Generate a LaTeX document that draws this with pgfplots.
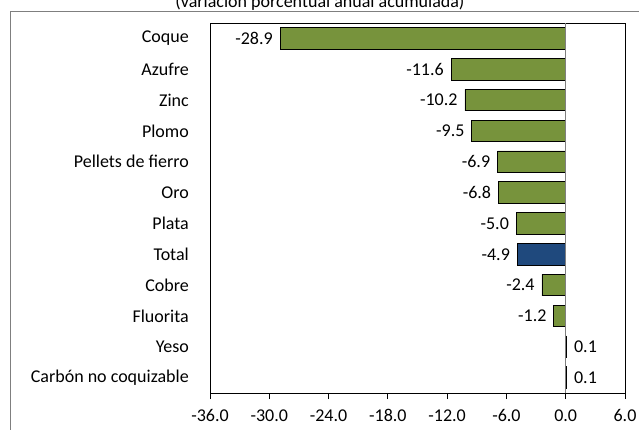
\documentclass[border=0pt]{standalone}
\usepackage{fontspec}
\setmainfont{Carlito}
\usepackage{pgfplots}
\pgfplotsset{compat=1.18}
\definecolor{barverde}{HTML}{77933C}
\definecolor{barazul}{HTML}{1F497D}
\definecolor{marco}{HTML}{7F7F7F}

\begin{document}
\fontsize{18}{21}\selectfont
\begin{tikzpicture}
\begin{axis}[
    scale only axis,
    width=415pt, height=370pt,
    xbar,
    xmin=-36, xmax=6,
    ymin=-0.5, ymax=11.5,
    xtick={-36,-30,...,6},
    ytick={0,...,11},
    yticklabels={Carbón no coquizable, Yeso, Fluorita, Cobre, Total, Plata, Oro, Pellets de fierro, Plomo, Zinc, Azufre, Coque},
    xtick pos=bottom,
    tick align=outside,
    major tick length=6pt,
    ytick style={draw=none},
    yticklabel style={xshift=-9pt},
    xticklabel style={anchor=base, yshift=-22pt, /pgf/number format/.cd, fixed, fixed zerofill, precision=1, assume math mode=true},
    axis line style={black, line width=0.9pt},
    tick style={black, line width=0.9pt},
    bar width=0.7,
    nodes near coords,
    point meta=x,
    nodes near coords style={/pgf/number format/.cd, fixed, fixed zerofill, precision=1, assume math mode=true, /tikz/.cd, inner sep=7pt},
]
\addplot[bar shift=0pt, fill=barverde, draw=black, line width=0.8pt] coordinates {
    (0.1,0) (0.1,1) (-1.2,2) (-2.4,3) (-5.0,5) (-6.8,6) (-6.9,7) (-9.5,8) (-10.2,9) (-11.6,10) (-28.9,11)
};
\addplot[bar shift=0pt, fill=barazul, draw=black, line width=0.8pt] coordinates {
    (-4.9,4)
};
\draw[marco, line width=1.2pt] (axis cs:0,-0.5) -- (axis cs:0,11.5);
\coordinate (O) at (rel axis cs:0,0);
\end{axis}
\pgfresetboundingbox
\begin{scope}[shift={(O)}, x=1pt, y=1pt]
\path[use as bounding box] (-210,-36) rectangle (429,393);
% chart area frame (runs past the right and bottom edges)
\draw[marco, line width=1pt] (-199.5,-50) -- (-199.5,381.5) -- (450,381.5);
\node[anchor=base, inner sep=0pt] at (110,385) {(variación porcentual anual acumulada)};
\end{scope}
\end{tikzpicture}
\end{document}
